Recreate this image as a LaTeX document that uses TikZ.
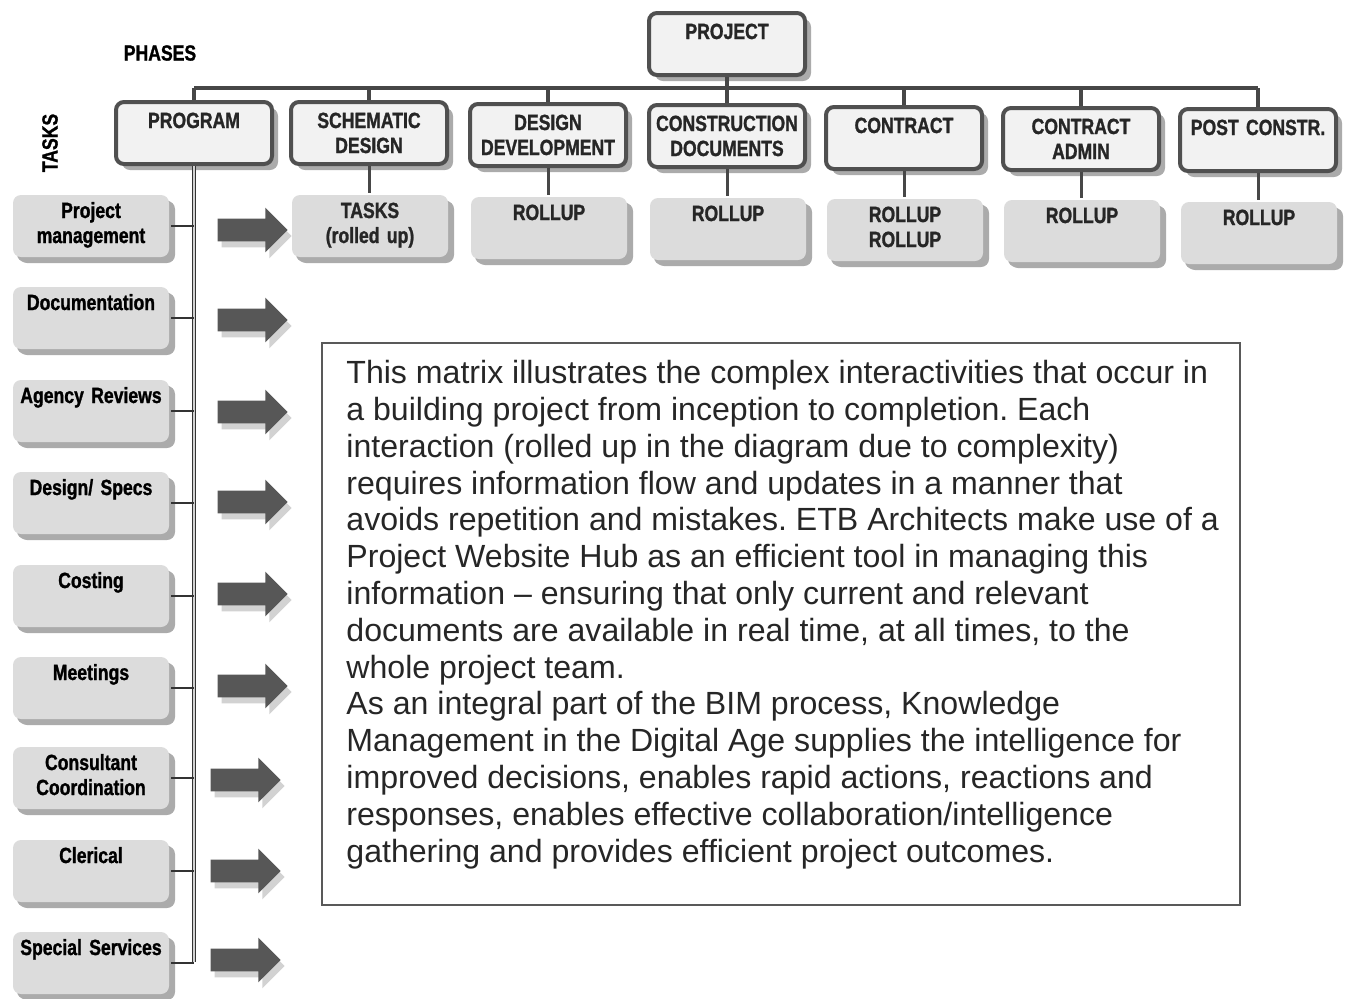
\documentclass[tikz,border=0pt]{standalone}
\usepackage{fontspec}
\setmainfont{Liberation Sans}
\newfontfamily\boxfamily[FakeStretch=0.8, BoldFeatures={FakeBold=1.2}]{Liberation Sans}
\usetikzlibrary{shapes.arrows,shadows}
\definecolor{boxedge}{HTML}{505050}
\definecolor{phasefill}{HTML}{F2F2F2}
\definecolor{taskfill}{HTML}{DCDCDC}
\definecolor{shadegray}{HTML}{ABABAB}
\definecolor{linkgray}{HTML}{474747}
\definecolor{arrowgray}{HTML}{575757}
\frenchspacing
\begin{document}
\begin{tikzpicture}[x=0.5pt,y=-0.5pt,
  lbl/.style={font=\boxfamily\bfseries\fontsize{11}{12.5}\selectfont, inner sep=0pt},
  phase/.style={draw=boxedge, line width=2pt, rounded corners=4pt, fill=phasefill,
    minimum width=78pt, text width=74pt, align=center, anchor=north,
    inner xsep=2pt, inner ysep=3pt, text height=10pt, text depth=15pt,
    font=\boxfamily\bfseries\fontsize{11}{12.5}\selectfont, text=black!85,
    drop shadow={shadow xshift=3pt, shadow yshift=-3pt, fill=shadegray, opacity=1}},
  rollup/.style={phase, draw=none, fill=taskfill, text height=8.5pt, text depth=16.5pt,
    drop shadow={shadow xshift=2pt, shadow yshift=-2.5pt, fill=shadegray, opacity=1}},
  task/.style={rollup, text=black},
  blockarrow/.style={single arrow, fill=arrowgray, draw=none, minimum height=35pt,
    single arrow head extend=5.5pt, single arrow head indent=0pt,
    inner xsep=0pt, inner ysep=5.5pt,
    drop shadow={shadow xshift=2pt, shadow yshift=-3pt, fill=gray!35, opacity=1}},
  bus/.style={draw=linkgray, line width=2pt},
  link/.style={draw=linkgray, line width=1.5pt},
  trunk/.style={draw=black!80, line width=0.6pt, double=gray!35, double distance=1pt},
  stub/.style={draw=black!80, line width=1pt},
  frame/.style={draw=black!65, line width=1pt},
  infotext/.style={font=\fontsize{16.05}{18.4}\selectfont, text=black!85, align=left,
    inner sep=0pt, anchor=north west}]
\useasboundingbox (0,0) rectangle (1353,998);

% headings
\node[lbl] (phases) at (160,53) {PHASES};
\node[lbl, rotate=90] (tasks) at (50,143) {TASKS};

% project and phases
\node[phase] (proj) at (727,11) {PROJECT};
\node[phase] (ph0) at (194,100) {PROGRAM};
\node[phase] (ph1) at (369,100) {SCHEMATIC\\DESIGN};
\node[phase] (ph2) at (548,102) {DESIGN\\DEVELOPMENT};
\node[phase] (ph3) at (727,103) {CONSTRUCTION\\DOCUMENTS};
\node[phase] (ph4) at (904,105) {CONTRACT};
\node[phase] (ph5) at (1081,106) {CONTRACT\\ADMIN};
\node[phase] (ph6) at (1258,107) {POST CONSTR.};
\coordinate (busL) at (194,88);
\coordinate (busR) at (1258,88);
\draw[bus] (busL) -- (busR);
\draw[bus] (proj.south) -- (proj.south |- busL);
\draw[bus] (ph0.north) -- (ph0.north |- busL);
\draw[bus] (ph1.north) -- (ph1.north |- busL);
\draw[bus] (ph2.north) -- (ph2.north |- busL);
\draw[bus] (ph3.north) -- (ph3.north |- busL);
\draw[bus] (ph4.north) -- (ph4.north |- busL);
\draw[bus] (ph5.north) -- (ph5.north |- busL);
\draw[bus] (ph6.north) -- (ph6.north |- busL);

% rollups
\node[rollup] (ru1) at (370,193) {TASKS\\(rolled up)};
\node[rollup] (ru2) at (549,195) {ROLLUP};
\node[rollup] (ru3) at (728,196) {ROLLUP};
\node[rollup] (ru4) at (905,197) {ROLLUP\\ROLLUP};
\node[rollup] (ru5) at (1082,198) {ROLLUP};
\node[rollup] (ru6) at (1259,200) {ROLLUP};
\draw[link] (ph1.south) -- (ph1.south |- ru1.north);
\draw[link] (ph2.south) -- (ph2.south |- ru2.north);
\draw[link] (ph3.south) -- (ph3.south |- ru3.north);
\draw[link] (ph4.south) -- (ph4.south |- ru4.north);
\draw[link] (ph5.south) -- (ph5.south |- ru5.north);
\draw[link] (ph6.south) -- (ph6.south |- ru6.north);

% tasks
\node[task] (tk0) at (91,193) {Project\\management};
\node[task] (tk1) at (91,285) {Documentation};
\node[task] (tk2) at (91,378) {Agency Reviews};
\node[task] (tk3) at (91,470) {Design/ Specs};
\node[task] (tk4) at (91,563) {Costing};
\node[task] (tk5) at (91,655) {Meetings};
\node[task] (tk6) at (91,745) {Consultant\\Coordination};
\node[task] (tk7) at (91,838) {Clerical};
\node[task] (tk8) at (91,930) {Special Services};
\coordinate (trunkend) at (193,962);
\draw[trunk] (ph0.south) -- (ph0.south |- trunkend);
\draw[stub] (tk0.east) -- (tk0.east -| ph0.south);
\draw[stub] (tk1.east) -- (tk1.east -| ph0.south);
\draw[stub] (tk2.east) -- (tk2.east -| ph0.south);
\draw[stub] (tk3.east) -- (tk3.east -| ph0.south);
\draw[stub] (tk4.east) -- (tk4.east -| ph0.south);
\draw[stub] (tk5.east) -- (tk5.east -| ph0.south);
\draw[stub] (tk6.east) -- (tk6.east -| ph0.south);
\draw[stub] (tk7.east) -- (tk7.east -| ph0.south);
\draw[stub] (tk8.east) -- (tk8.east -| ph0.south);

% arrows
\node[blockarrow] (ar0) at (247,230) {};
\node[blockarrow] (ar1) at (247,320) {};
\node[blockarrow] (ar2) at (247,412) {};
\node[blockarrow] (ar3) at (247,502) {};
\node[blockarrow] (ar4) at (247,594) {};
\node[blockarrow] (ar5) at (247,686) {};
\node[blockarrow] (ar6) at (240,780) {};
\node[blockarrow] (ar7) at (240,871) {};
\node[blockarrow] (ar8) at (240,960) {};

% description
\draw[frame] (322,343) rectangle (1240,905);
\node[infotext] (info) at (346,360) {This matrix illustrates the complex interactivities that occur in\\
a building project from inception to completion. Each\\
interaction (rolled up in the diagram due to complexity)\\
requires information flow and updates in a manner that\\
avoids repetition and mistakes. ETB Architects make use of a\\
Project Website Hub as an efficient tool in managing this\\
information -- ensuring that only current and relevant\\
documents are available in real time, at all times, to the\\
whole project team.\\
As an integral part of the BIM process, Knowledge\\
Management in the Digital Age supplies the intelligence for\\
improved decisions, enables rapid actions, reactions and\\
responses, enables effective collaboration/intelligence\\
gathering and provides efficient project outcomes.};
\end{tikzpicture}
\end{document}
